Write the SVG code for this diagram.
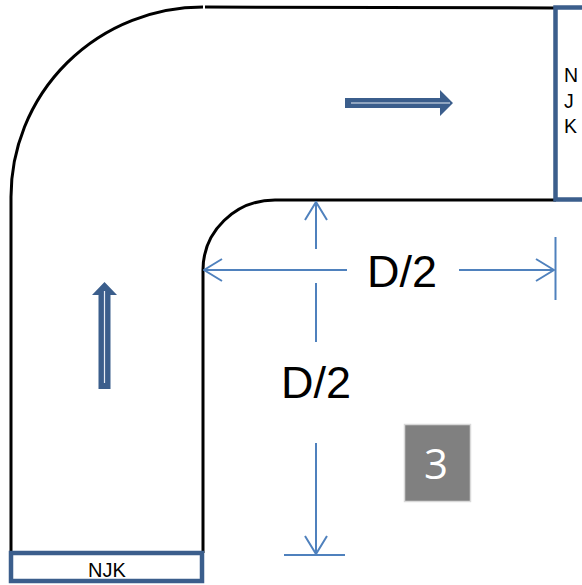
<svg xmlns="http://www.w3.org/2000/svg" width="582" height="585" viewBox="0 0 582 585">
<defs>
<style>
.pipe{fill:none;stroke:#000;stroke-width:3}
.dim{fill:none;stroke:#4F81BD;stroke-width:2}
.flow{fill:#3B5E8C}
.flowline{stroke:#E6ECF4;stroke-width:1.2}
.port{fill:#fff;stroke:#3B5E8C;stroke-width:4.5}
.lbl{font-family:"Liberation Sans",Arial,sans-serif;fill:#000}
.big{font-family:"Liberation Sans",Arial,sans-serif;font-size:45px;fill:#000}
</style>
<marker id="open" viewBox="0 0 20 24" refX="19" refY="12" markerWidth="20" markerHeight="24" markerUnits="userSpaceOnUse" orient="auto">
<path d="M1,1 L19,12 L1,23" fill="none" stroke="#4F81BD" stroke-width="2"/>
</marker>
</defs>
<rect width="582" height="585" fill="#fff"/>
<g id="pipe">
<path class="pipe" d="M203,7 A192,190 0 0 0 11,197 L11,553"/>
<path class="pipe" d="M205,7 L556,8"/>
<path class="pipe" d="M556,200 L275,200 A72,70 0 0 0 203,270 L203,553"/>
</g>
<g id="outlet-right">
<rect class="port" x="555.5" y="7.5" width="40" height="192"/>
<text class="lbl" font-size="19.5" x="564" y="82">N</text>
<text class="lbl" font-size="19.5" x="564" y="108">J</text>
<text class="lbl" font-size="19.5" x="564" y="133">K</text>
</g>
<g id="inlet-bottom">
<rect class="port" x="11" y="553" width="191" height="28"/>
<text class="lbl" font-size="20" x="107" y="577" text-anchor="middle">NJK</text>
</g>
<g id="flow-arrows">
<polygon class="flow" points="345,98 440,98 440,90 453,103 440,116 440,108 345,108"/>
<line class="flowline" x1="351" y1="103" x2="450" y2="103"/>
<polygon class="flow" points="98.5,389 98.5,295 92,295 104.5,282 117,295 110.5,295 110.5,389"/>
<line class="flowline" x1="104.5" y1="383" x2="104.5" y2="291"/>
</g>
<g id="connectors">
<path class="dim" d="M347,270 L204,270" marker-end="url(#open)"/>
<path class="dim" d="M459,270 L554,270" marker-end="url(#open)"/>
<path class="dim" d="M555.5,237 L555.5,300"/>
<path class="dim" d="M316,249 L316,202" marker-end="url(#open)"/>
<path class="dim" d="M316,283 L316,342"/>
<path class="dim" d="M316,443 L316,554" marker-end="url(#open)"/>
<path class="dim" d="M284,555 L345,555"/>
</g>
<g id="dim-labels">
<text class="big" x="367" y="287">D/2</text>
<text class="big" x="281" y="398">D/2</text>
</g>
<g id="badge-3">
<rect x="404.5" y="424.5" width="66" height="77" fill="#808080" stroke="#D9D9D9" stroke-width="1.5"/>
<text x="436" y="479" text-anchor="middle" font-family="'Open Sans','Noto Sans',sans-serif" font-size="42" fill="#fff">3</text>
</g>
</svg>
